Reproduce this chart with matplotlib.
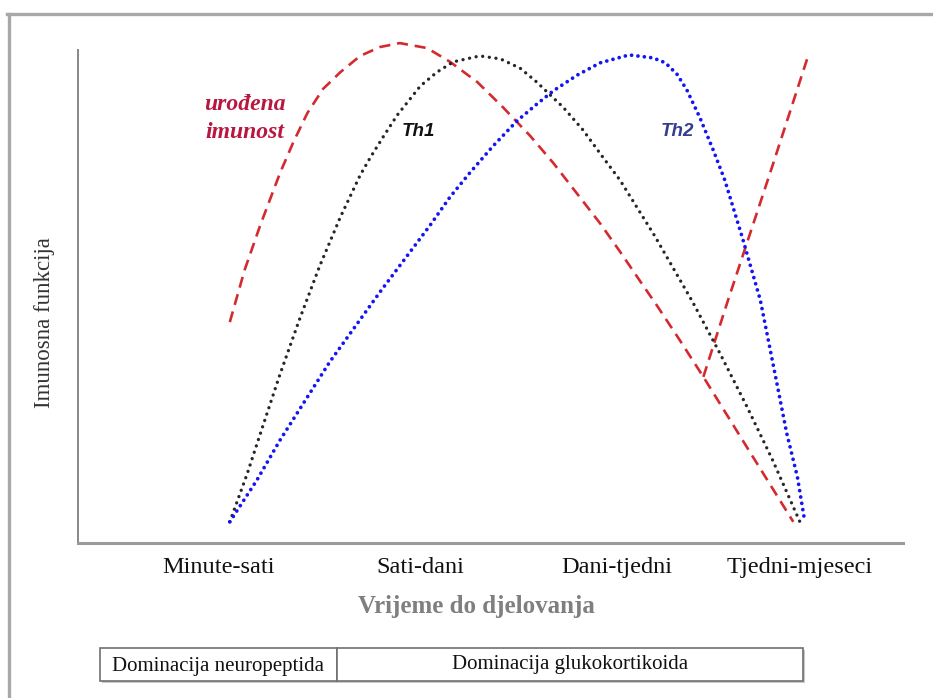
import matplotlib
matplotlib.use("Agg")
import matplotlib.pyplot as plt
from matplotlib.lines import Line2D
from matplotlib.patches import Rectangle

# ---- data (x, y in a 0-100 chart scale) ----
tick_pos = [17.0, 41.5, 65.3, 87.5]
tick_labels = ["Minute-sati", "Sati-dani", "Dani-tjedni", "Tjedni-mjeseci"]

innate_x = [18.4, 20.2, 22.1, 24.5, 26.1, 27.8, 29.7, 31.8, 34.2, 36.6, 39.0, 42.3, 45.1,
            48.4, 51.5, 54.8, 57.6, 60.8, 63.3, 65.7, 68.1, 70.2, 73.0, 75.8, 81.5, 86.7]
innate_y = [44.8, 55.4, 64.5, 75.1, 81.3, 87.2, 92.1, 95.5, 98.8, 100.6, 101.4, 100.4, 97.6,
            93.5, 88.4, 82.6, 77.1, 70.2, 64.8, 59.1, 53.2, 48.1, 41.0, 33.7, 18.3, 4.3]

innate2_x = [75.8, 78.8, 83.9, 88.5]
innate2_y = [33.7, 49.3, 75.1, 98.8]

th1_x = [18.4, 20.5, 22.4, 24.5, 26.9, 29.3, 31.8, 34.2, 35.4, 37.0, 38.7, 41.5, 43.5, 45.5,
         48.7, 51.2, 53.6, 55.6, 58.8, 61.2, 63.6, 65.7, 69.9, 74.5, 77.8, 81.1, 84.2, 87.5]
th1_y = [4.3, 14.0, 23.7, 34.3, 45.6, 56.2, 66.1, 74.6, 78.1, 82.4, 86.8, 92.7, 95.5, 97.6,
         98.8, 98.2, 96.3, 93.5, 88.4, 83.8, 78.3, 73.6, 62.3, 48.9, 38.5, 27.6, 16.8, 4.3]

th2_x = [18.4, 21.7, 24.5, 30.5, 36.6, 42.7, 45.1, 47.5, 50.3, 53.2, 55.6, 57.6, 60.5, 63.3,
         66.8, 69.7, 71.2, 72.6, 73.8, 75.4, 77.0, 78.4, 80.5, 82.7, 83.5, 84.7, 85.9, 87.2, 88.1]
th2_y = [4.3, 12.8, 20.9, 36.7, 50.9, 64.5, 70.2, 75.1, 80.5, 85.6, 89.0, 91.7, 94.9, 97.4,
         99.0, 98.4, 97.4, 95.1, 91.9, 86.2, 79.7, 73.6, 62.1, 49.3, 42.6, 32.5, 22.3, 13.4, 4.3]

W, H = 933, 698
fig = plt.figure(figsize=(W / 100, H / 100), dpi=100)
fig.patch.set_facecolor("white")

ax = fig.add_axes([78 / W, (H - 543) / H, 825 / W, 493 / H])
ax.set_xlim(0, 100)
ax.set_ylim(0, 100)

red = "#D42A2F"
ax.plot(innate_x, innate_y, color=red, lw=1.9, linestyle=(0, (4.2, 2.6)), clip_on=False)
ax.plot(innate2_x, innate2_y, color=red, lw=1.9, linestyle=(0, (4.2, 2.6)), clip_on=False)
ax.plot(th1_x, th1_y, color="#262626", lw=2.4, linestyle=(0, (0.01, 2.0)),
        dash_capstyle="round", clip_on=False)
ax.plot(th2_x, th2_y, color="#1414F5", lw=2.7, linestyle=(0, (0.01, 1.7)),
        dash_capstyle="round", clip_on=False)

for s in ["top", "right"]:
    ax.spines[s].set_visible(False)
ax.spines["left"].set_color("#888888")
ax.spines["left"].set_linewidth(1.4)
ax.spines["bottom"].set_color("#9A9A9A")
ax.spines["bottom"].set_linewidth(2.2)

ax.set_yticks([])
ax.set_xticks(tick_pos)
ax.set_xticklabels(tick_labels, fontfamily="Liberation Serif", fontsize=17.5, color="#111111")
ax.tick_params(axis="x", length=0, pad=10)

ax.text(0.202, 0.890, "urođena", transform=ax.transAxes, ha="center", va="center",
        fontfamily="Liberation Serif", fontsize=17, fontweight="bold", fontstyle="italic",
        color="#B8173F")
ax.text(0.202, 0.832, "imunost", transform=ax.transAxes, ha="center", va="center",
        fontfamily="Liberation Serif", fontsize=17, fontweight="bold", fontstyle="italic",
        color="#B8173F")
ax.text(0.412, 0.834, "Th1", transform=ax.transAxes, ha="center", va="center",
        fontfamily="Liberation Sans", fontsize=13.5, fontweight="bold", fontstyle="italic",
        color="#111111")
ax.text(0.726, 0.834, "Th2", transform=ax.transAxes, ha="center", va="center",
        fontfamily="Liberation Sans", fontsize=13.5, fontweight="bold", fontstyle="italic",
        color="#353D8F")

fig.text(476 / W, 1 - 606 / H, "Vrijeme do djelovanja", ha="center", va="center",
         fontfamily="Liberation Serif", fontsize=18, fontweight="bold", color="#7F7F7F")
fig.text(45 / W, 1 - 323 / H, "Imunosna funkcija", ha="center", va="center", rotation=90,
         fontfamily="Liberation Serif", fontsize=16.5, color="#333333")

# outer frame
fig.add_artist(Line2D([7 / W, 1], [1 - 14 / H, 1 - 14 / H], transform=fig.transFigure,
                      color="#A8A8A8", lw=2.4))
fig.add_artist(Line2D([9 / W, 9 / W], [0, 1 - 14 / H], transform=fig.transFigure,
                      color="#A8A8A8", lw=2.4))

# table below the chart
def box(x0, x1):
    fig.add_artist(Rectangle((x0 / W + 2 / W, 1 - 683 / H), (x1 - x0) / W, 33 / H,
                             transform=fig.transFigure, facecolor="#C8C8C8", edgecolor="none"))
    fig.add_artist(Rectangle((x0 / W, 1 - 681 / H), (x1 - x0) / W, 33 / H,
                             transform=fig.transFigure, facecolor="white", edgecolor="#707070",
                             lw=1.2))

box(100, 337)
box(337, 803)
fig.text(218 / W, 1 - 666 / H, "Dominacija neuropeptida", ha="center", va="center",
         fontfamily="Liberation Serif", fontsize=15, color="#111111")
fig.text(570 / W, 1 - 664 / H, "Dominacija glukokortikoida", ha="center", va="center",
         fontfamily="Liberation Serif", fontsize=15, color="#111111")

fig.savefig("out.png", dpi=100)
